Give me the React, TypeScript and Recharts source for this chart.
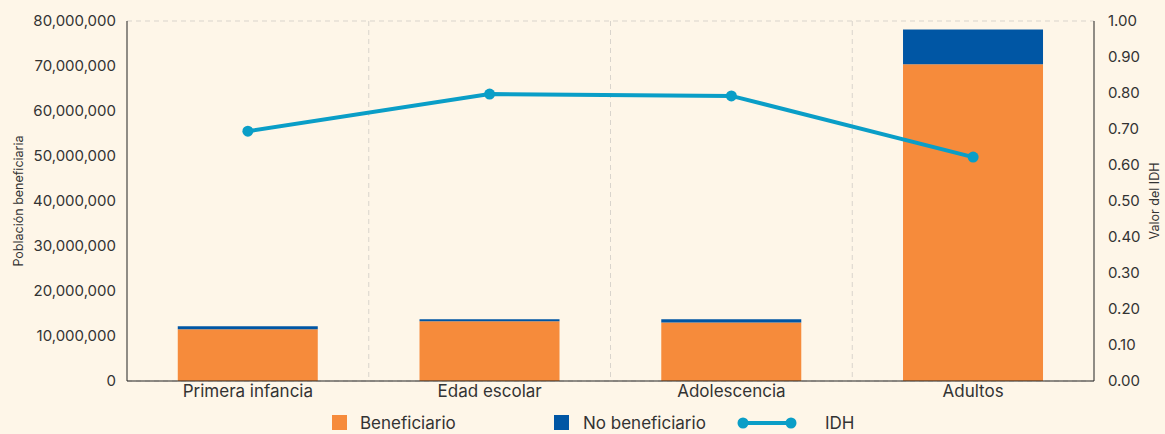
import {
  ComposedChart,
  CartesianGrid,
  XAxis,
  YAxis,
  Bar,
  Line,
  Legend,
} from "recharts";

const categories = ["Primera infancia", "Edad escolar", "Adolescencia", "Adultos"];
const beneficiario = [11500000, 13300000, 13000000, 70400000];
const noBeneficiario = [650000, 400000, 700000, 7700000];
const idh = [0.694, 0.797, 0.792, 0.622];

const leftTicks = [0, 10000000, 20000000, 30000000, 40000000, 50000000, 60000000, 70000000, 80000000];
const rightTicks = [0, 0.1, 0.2, 0.3, 0.4, 0.5, 0.6, 0.7, 0.8, 0.9, 1];

const data = categories.map((name, i) => ({
  name,
  beneficiario: beneficiario[i],
  noBeneficiario: noBeneficiario[i],
  idh: idh[i],
}));

const ORANGE = "#F68B3B";
const BLUE = "#0056A4";
const TEAL = "#0A9EC7";
const BG = "#FEF6E8";
const TEXT = "#333333";
const FONT = "Inter, 'Liberation Sans', Arial, sans-serif";

const LegendBox = () => (
  <div
    style={{
      display: "flex",
      fontFamily: FONT,
      fontSize: 17,
      color: TEXT,
      paddingLeft: 332,
      alignItems: "center",
      height: 23,
    }}
  >
    <div style={{ width: 222, display: "flex", alignItems: "center" }}>
      <span style={{ width: 15, height: 15, background: ORANGE, marginRight: 13 }} />
      Beneficiario
    </div>
    <div style={{ width: 183, display: "flex", alignItems: "center" }}>
      <span style={{ width: 15, height: 15, background: BLUE, marginRight: 14 }} />
      No beneficiario
    </div>
    <div style={{ display: "flex", alignItems: "center" }}>
      <svg width={60} height={14} style={{ marginRight: 28 }}>
        <line x1={6} y1={7} x2={54} y2={7} stroke={TEAL} strokeWidth={4} />
        <circle cx={6} cy={7} r={5.5} fill={TEAL} />
        <circle cx={54} cy={7} r={5.5} fill={TEAL} />
      </svg>
      IDH
    </div>
  </div>
);

const sideLabel = (value: string, x: number) => (props: any) => {
  const vb = props.viewBox;
  const cy = vb.y + vb.height / 2;
  return (
    <text
      x={x}
      y={cy}
      transform={`rotate(-90 ${x} ${cy})`}
      textAnchor="middle"
      dominantBaseline="central"
      fontSize={12.5}
      fontFamily={FONT}
      fill={TEXT}
    >
      {value}
    </text>
  );
};

export default function App() {
  return (
    <div style={{ position: "fixed", top: 0, left: 0, width: 1165, height: 434, background: BG }}>
      <ComposedChart
        width={1165}
        height={434}
        data={data}
        margin={{ top: 21, right: 0, bottom: 0, left: 0 }}
        barCategoryGap="21%"
      >
        <CartesianGrid
          stroke="#d9d4cc"
          strokeDasharray="5 4"
          verticalCoordinatesGenerator={({ offset }: any) =>
            [1, 2, 3].map((i) => offset.left + (offset.width * i) / categories.length)
          }
        />
        <XAxis
          dataKey="name"
          height={30}
          tickLine={false}
          tickSize={0}
          tickMargin={4}
          stroke="#222"
          tick={{ fill: TEXT, fontSize: 17, fontFamily: FONT }}
        />
        <YAxis
          yAxisId="left"
          width={127}
          domain={[0, 80000000]}
          ticks={leftTicks}
          tickFormatter={(v: number) => v.toLocaleString("en-US")}
          tickLine={false}
          tickSize={0}
          tickMargin={11}
          stroke="#222"
          tick={{ fill: TEXT, fontSize: 15, fontFamily: FONT }}
          label={{ content: sideLabel("Población beneficiaria", 18) }}
        />
        <YAxis
          yAxisId="right"
          orientation="right"
          width={71}
          domain={[0, 1]}
          ticks={rightTicks}
          tickFormatter={(v: number) => v.toFixed(2)}
          tickLine={false}
          tickSize={0}
          tickMargin={14}
          stroke="#222"
          tick={{ fill: TEXT, fontSize: 15, fontFamily: FONT, textAnchor: "start" }}
          label={{ content: sideLabel("Valor del IDH", 1154) }}
        />
        <Legend verticalAlign="bottom" height={23} content={() => <LegendBox />} />
        <Bar
          yAxisId="left"
          dataKey="beneficiario"
          name="Beneficiario"
          stackId="a"
          fill={ORANGE}
          isAnimationActive={false}
        />
        <Bar
          yAxisId="left"
          dataKey="noBeneficiario"
          name="No beneficiario"
          stackId="a"
          fill={BLUE}
          isAnimationActive={false}
        />
        <Line
          yAxisId="right"
          dataKey="idh"
          name="IDH"
          stroke={TEAL}
          strokeWidth={4}
          dot={{ r: 5.5, fill: TEAL, stroke: TEAL, strokeWidth: 0 }}
          isAnimationActive={false}
        />
      </ComposedChart>
    </div>
  );
}
